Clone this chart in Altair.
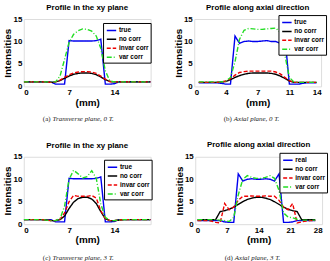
import altair as alt
import pandas as pd

# ---------------- data ----------------
SERIES_A = ["true", "no corr", "invar corr", "var corr"]
SERIES_D = ["real", "no corr", "invar corr", "var corr"]
COLORS = ["#0000ee", "#000000", "#ee0000", "#22dd22"]
DASHES = [[1, 0], [1, 0], [4, 2], [5, 2, 1, 2]]

# Panel (a)/(c): transverse profiles
x_tr = [0.0, 0.7, 1.4, 2.1, 2.8, 3.5, 4.2, 4.9, 5.6, 6.3, 7.0, 7.7, 8.4, 9.1, 9.8,
        10.5, 11.2, 11.9, 12.6, 13.3, 14.0, 14.7, 15.4, 16.1, 16.8, 17.5, 18.2, 18.9, 19.6]
a_true = [1.0, 1.0, 1.0, 1.0, 1.0, 1.0, 1.0, 0.5, 0.5, 0.5, 10.2, 10.1, 10.1, 10.1, 10.1,
          10.1, 10.2, 10.5, 0.5, 0.5, 0.6, 1.0, 1.0, 1.0, 1.0, 1.0, 1.0, 1.0, 1.0]
a_nocorr = [1.0, 1.0, 1.0, 1.0, 1.0, 1.0, 0.9, 1.0, 1.3, 1.8, 2.3, 2.7, 2.9, 3.0, 3.0,
            2.9, 2.6, 2.1, 1.5, 1.1, 1.0, 1.0, 1.0, 1.0, 1.0, 1.0, 1.0, 1.0, 1.0]
a_invar = [1.0, 1.0, 1.0, 1.0, 1.0, 1.0, 0.9, 1.0, 1.4, 2.0, 2.6, 3.0, 3.2, 3.3, 3.3,
           3.2, 2.9, 2.3, 1.6, 1.1, 1.0, 1.0, 1.0, 1.0, 1.0, 1.0, 1.0, 1.0, 1.0]
a_var = [1.0, 1.0, 1.0, 1.0, 1.0, 1.0, 1.0, 1.0, 2.3, 6.0, 9.8, 11.6, 12.4, 12.8, 12.7,
         12.3, 11.2, 8.5, 3.5, 1.2, 1.0, 1.0, 1.0, 1.0, 1.0, 1.0, 1.0, 1.0, 1.0]

c_true = [1.0, 1.0, 1.0, 1.0, 1.0, 1.0, 1.0, 0.5, 0.5, 0.5, 10.2, 10.1, 10.1, 10.1, 10.1,
          10.1, 10.2, 10.5, 0.5, 0.5, 0.6, 1.0, 1.0, 1.0, 1.0, 1.0, 1.0, 1.0, 1.0]
c_nocorr = [1.0, 1.0, 1.0, 1.0, 1.0, 0.9, 0.8, 0.8, 1.0, 1.8, 3.5, 4.9, 5.7, 6.0, 6.0,
            5.6, 4.6, 2.8, 1.2, 0.8, 0.8, 0.9, 1.0, 1.0, 1.0, 1.0, 1.0, 1.0, 1.0]
c_invar = [1.0, 1.0, 1.0, 1.0, 1.0, 0.9, 0.8, 0.8, 1.1, 2.5, 5.0, 6.4, 6.2, 6.2, 6.2,
           6.4, 5.8, 3.0, 1.2, 0.8, 0.8, 0.9, 1.0, 1.0, 1.0, 1.0, 1.0, 1.0, 1.0]
c_var = [1.0, 1.0, 1.0, 1.0, 1.0, 0.9, 0.8, 0.8, 1.2, 4.0, 10.0, 12.0, 11.2, 10.3, 10.6,
         11.9, 10.2, 4.5, 1.5, 0.8, 0.8, 0.9, 1.0, 1.0, 1.0, 1.0, 1.0, 1.0, 1.0]

# Panel (b): axial, 0 T
x_b = [0.5, 1.0, 1.5, 2.0, 2.5, 3.0, 3.5, 4.0, 4.5, 5.0, 5.5, 6.0, 6.5, 7.0, 7.5,
       8.0, 8.5, 9.0, 9.5, 10.0, 10.5, 11.0, 11.5, 12.0, 12.5, 13.0, 13.5]
b_true = [0.8, 0.8, 0.8, 0.8, 0.8, 0.7, 0.5, 0.5, 11.2, 9.6, 10.0, 10.1, 10.0, 10.0, 10.1,
          10.2, 10.0, 10.0, 9.6, 11.2, 0.5, 0.5, 0.5, 0.7, 0.8, 0.8, 0.8]
b_nocorr = [0.9, 0.9, 0.9, 0.9, 0.9, 1.0, 1.1, 1.5, 2.0, 2.4, 2.7, 2.9, 3.0, 3.0, 3.0,
            3.0, 2.9, 2.7, 2.3, 1.8, 1.2, 0.9, 0.9, 0.9, 0.9, 0.9, 0.9]
b_invar = [0.9, 0.9, 0.9, 0.9, 0.9, 1.0, 1.2, 1.7, 2.5, 3.1, 3.3, 3.4, 3.4, 3.4, 3.4,
           3.4, 3.4, 3.2, 2.8, 2.0, 1.3, 0.9, 0.9, 0.9, 0.9, 0.9, 0.9]
b_var = [1.0, 1.0, 1.0, 1.0, 1.0, 1.0, 1.2, 2.0, 5.5, 10.5, 12.5, 12.9, 12.8, 12.7, 12.7,
         12.8, 12.9, 13.0, 12.0, 7.0, 2.0, 1.0, 0.9, 0.9, 0.9, 0.9, 0.9]

# Panel (d): axial, 3 T
x_d = [0.5, 1.5, 2.5, 3.5, 4.5, 5.5, 6.5, 7.5, 8.5, 9.5, 10.5, 11.5, 12.5, 13.5, 14.5,
       15.5, 16.5, 17.5, 18.5, 19.5, 20.5, 21.5, 22.5, 23.5, 24.5, 25.5, 26.5]
d_real = [0.8, 0.8, 0.8, 0.8, 0.8, 0.8, 0.5, 0.4, 0.4, 11.2, 9.6, 10.0, 10.1, 10.0, 10.0,
          10.1, 10.0, 9.6, 11.2, 0.4, 0.4, 0.5, 0.8, 0.8, 0.8, 0.8, 0.8]
d_nocorr = [1.0, 1.0, 1.0, 1.0, 1.0, 2.8, 3.0, 3.3, 3.8, 4.4, 5.0, 5.5, 5.8, 6.0, 6.0,
            5.8, 5.5, 5.0, 4.4, 3.8, 3.3, 3.0, 2.8, 1.0, 1.0, 1.0, 1.0]
d_invar = [0.8, 0.8, 0.8, 0.7, 0.4, 0.3, 4.6, 3.2, 3.8, 5.3, 6.2, 6.2, 6.3, 6.2, 6.2,
           6.3, 6.2, 6.2, 5.3, 3.8, 3.2, 4.6, 0.3, 0.5, 0.7, 0.8, 0.8]
d_var = [1.0, 1.0, 1.0, 1.0, 1.0, 0.9, 0.8, 0.6, 1.5, 6.5, 10.0, 10.8, 10.4, 10.2, 10.2,
         10.4, 10.8, 10.2, 7.5, 2.5, 1.6, 1.4, 1.1, 0.9, 0.9, 0.9, 0.9]

Y_TICKS = [0, 5, 10, 15]
XT_A = [0, 7, 14]
XT_B = [0, 3.5, 7, 10.5, 14]
XT_D = [0, 7, 14, 21, 28]

SANS = "Liberation Sans"
SERIF = "Liberation Serif"
W, H = 128, 68

AX_COMMON = dict(labelFont=SANS, labelFontSize=8, labelFontWeight="bold",
                 labelColor="black", titleFont=SANS, titleFontSize=10,
                 titleFontWeight="bold", titleColor="black", grid=False,
                 ticks=False, tickSize=0, domain=False, minExtent=0, maxExtent=40)


def panel(x, ys, names, title, cap_tag, cap_text, xdom, xticks, cap_dx, cap_y,
          leg_x, leg_y):
    rows = []
    for name, vals in zip(names, ys):
        for xi, yi in zip(x, vals):
            rows.append({"x": xi, "y": yi, "s": name})
    df = pd.DataFrame(rows)
    leg = dict(orient="none", legendX=leg_x, legendY=leg_y, title=None, padding=2,
               strokeColor="black", fillColor="white", labelFontSize=6.5,
               labelFont=SANS, labelFontWeight="bold", symbolType="stroke",
               symbolSize=90, symbolStrokeWidth=1.5, rowPadding=0, labelOffset=2,
               cornerRadius=0, labelLimit=100, symbolOffset=1)
    xaxis = alt.Axis(values=xticks, title="(mm)", labelPadding=2,
                     titleY=16, titleBaseline="middle", **AX_COMMON)
    yaxis = alt.Axis(values=Y_TICKS, title="Intensities", labelPadding=2,
                     titleX=-16, titleBaseline="middle", **AX_COMMON)
    lines = alt.Chart(df).mark_line(strokeWidth=1.4, clip=True).encode(
        x=alt.X("x:Q", scale=alt.Scale(domain=xdom, nice=False, zero=False), axis=xaxis),
        y=alt.Y("y:Q", scale=alt.Scale(domain=[0, 15], nice=False), axis=yaxis),
        color=alt.Color("s:N", scale=alt.Scale(domain=names, range=COLORS),
                        legend=alt.Legend(**leg)),
        strokeDash=alt.StrokeDash("s:N", scale=alt.Scale(domain=names, range=DASHES),
                                  legend=alt.Legend(**leg)),
        detail="s:N",
    )
    cap_df = pd.DataFrame({"a": [cap_tag], "b": [cap_text]})
    tag = alt.Chart(cap_df).mark_text(font=SERIF, fontSize=7, align="right",
                                      baseline="middle", color="#222222").encode(
        text="a:N", x=alt.value(cap_dx), y=alt.value(cap_y))
    txt = alt.Chart(cap_df).mark_text(font=SERIF, fontSize=7, fontStyle="italic",
                                      align="left", baseline="middle",
                                      color="#222222").encode(
        text="b:N", x=alt.value(cap_dx + 2), y=alt.value(cap_y))
    return alt.layer(lines, tag, txt).properties(
        width=W, height=H,
        title=alt.TitleParams(title, fontSize=8, font=SANS, fontWeight="bold",
                              offset=3, anchor="middle"))


pa = panel(x_tr, [a_true, a_nocorr, a_invar, a_var], SERIES_A,
           "Profile in the xy plane", "(a)", "Transverse plane, 0 T.",
           [0, 19.6], XT_A, 27, 101, 80, 4)
pb = panel(x_b, [b_true, b_nocorr, b_invar, b_var], SERIES_A,
           "Profile along axial direction", "(b)", "Axial plane, 0 T.",
           [0, 14], XT_B, 38, 101, 85, -4)
pc = panel(x_tr, [c_true, c_nocorr, c_invar, c_var], SERIES_A,
           "Profile in the xy plane", "(c)", "Transverse plane, 3 T.",
           [0, 19.6], XT_A, 27, 102, 81, 3)
pd_ = panel(x_d, [d_real, d_nocorr, d_invar, d_var], SERIES_D,
            "Profile along axial direction", "(d)", "Axial plane, 3 T.",
            [0, 28], XT_D, 38, 102, 85, -4)

top = alt.hconcat(pa, pb, spacing=21).resolve_scale(color="independent", strokeDash="independent")
bot = alt.hconcat(pc, pd_, spacing=21).resolve_scale(color="independent", strokeDash="independent")

chart = alt.vconcat(top, bot, spacing=18).resolve_scale(
    color="independent", strokeDash="independent"
).properties(
    padding={"left": 2, "top": 2, "right": 2, "bottom": 2}
).configure_view(
    stroke="black", strokeWidth=1
).configure(
    background="white"
)

chart.save("out.html", embed_options={"renderer": "svg", "actions": False})
